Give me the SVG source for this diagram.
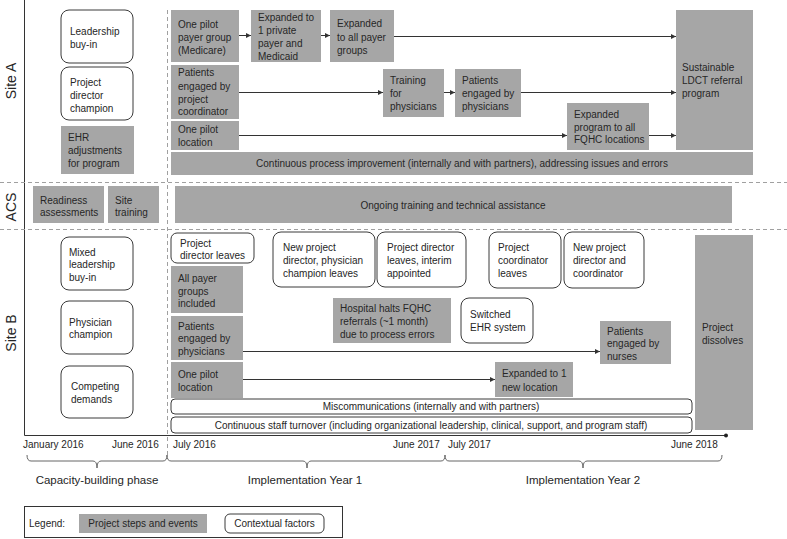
<svg xmlns="http://www.w3.org/2000/svg" width="787" height="539" viewBox="0 0 787 539">
<style>
.g{fill:#a6a6a6}
.w{fill:#fff;stroke:#3a3a3a;stroke-width:1}
.t{font-family:"Liberation Sans",Arial,sans-serif;font-size:10px;fill:#262626}
.c{text-anchor:middle}
.lab{font-family:"Liberation Sans",Arial,sans-serif;font-size:14px;fill:#262626;text-anchor:middle}
.ph{font-family:"Liberation Sans",Arial,sans-serif;font-size:11.5px;fill:#262626;text-anchor:middle}
.dash{stroke:#a0a0a0;stroke-dasharray:4 3;fill:none;stroke-width:1}
.conn{stroke:#333;stroke-width:1;fill:none;marker-end:url(#ah)}
.axis{stroke:#333;stroke-width:1;fill:none}
.brace{stroke:#666;stroke-width:1;fill:none}
</style>
<defs>
<marker id="ah" viewBox="0 0 6 6" refX="6" refY="3" markerWidth="5" markerHeight="5" orient="auto" markerUnits="userSpaceOnUse"><path d="M0,0 L6,3 L0,6 z" fill="#333"/></marker>
</defs>
<rect width="787" height="539" fill="#fff"/>

<g id="frame">
<line class="axis" x1="24.5" y1="0" x2="24.5" y2="435.5"/>
<line class="axis" x1="24.5" y1="435.5" x2="726" y2="435.5"/>
<circle cx="726" cy="435.5" r="2" fill="#222"/>
<line class="dash" x1="0" y1="182.5" x2="787" y2="182.5"/>
<line class="dash" x1="0" y1="229.5" x2="787" y2="229.5"/>
<line class="dash" x1="167.5" y1="10" x2="167.5" y2="455"/>
<text class="lab" transform="translate(16,81) rotate(-90)">Site A</text>
<text class="lab" transform="translate(16,207) rotate(-90)">ACS</text>
<text class="lab" transform="translate(16,333) rotate(-90)">Site B</text>
</g>

<!-- Site A -->
<g id="a-leadership"><rect class="w" x="61" y="10" width="72" height="53" rx="8"/><text class="t"><tspan x="70" y="35">Leadership</tspan><tspan x="70" y="48">buy-in</tspan></text></g>
<g id="a-director"><rect class="w" x="61" y="67" width="72" height="53" rx="8"/><text class="t"><tspan x="70" y="86">Project</tspan><tspan x="70" y="99">director</tspan><tspan x="70" y="112">champion</tspan></text></g>
<g id="a-ehr"><rect class="g" x="61" y="126" width="73" height="48"/><text class="t"><tspan x="68" y="141">EHR</tspan><tspan x="68" y="154">adjustments</tspan><tspan x="68" y="167">for program</tspan></text></g>
<g id="a-payer1"><rect class="g" x="171" y="10" width="68" height="52"/><text class="t"><tspan x="178" y="28">One pilot</tspan><tspan x="178" y="41">payer group</tspan><tspan x="178" y="54">(Medicare)</tspan></text></g>
<g id="a-payer2"><rect class="g" x="251" y="10" width="70" height="52"/><text class="t"><tspan x="258" y="21">Expanded to</tspan><tspan x="258" y="34">1 private</tspan><tspan x="258" y="47">payer and</tspan><tspan x="258" y="60">Medicaid</tspan></text></g>
<g id="a-payer3"><rect class="g" x="330" y="10" width="64" height="52"/><text class="t"><tspan x="337" y="27">Expanded</tspan><tspan x="337" y="41">to all payer</tspan><tspan x="337" y="54">groups</tspan></text></g>
<g id="a-coord"><rect class="g" x="171" y="65" width="68" height="54"/><text class="t"><tspan x="178" y="76">Patients</tspan><tspan x="178" y="90">engaged by</tspan><tspan x="178" y="103">project</tspan><tspan x="178" y="115">coordinator</tspan></text></g>
<g id="a-location"><rect class="g" x="171" y="121" width="68" height="29"/><text class="t"><tspan x="178" y="133">One pilot</tspan><tspan x="178" y="146">location</tspan></text></g>
<g id="a-training"><rect class="g" x="383" y="69" width="61" height="48"/><text class="t"><tspan x="390" y="84">Training</tspan><tspan x="390" y="97">for</tspan><tspan x="390" y="110">physicians</tspan></text></g>
<g id="a-physicians"><rect class="g" x="455" y="69" width="66" height="48"/><text class="t"><tspan x="462" y="84">Patients</tspan><tspan x="462" y="97">engaged by</tspan><tspan x="462" y="110">physicians</tspan></text></g>
<g id="a-fqhc"><rect class="g" x="567" y="103" width="82" height="47"/><text class="t"><tspan x="574" y="118">Expanded</tspan><tspan x="574" y="131">program to all</tspan><tspan x="574" y="143">FQHC locations</tspan></text></g>
<g id="a-ldct"><rect class="g" x="676" y="10" width="77" height="140"/><text class="t"><tspan x="682" y="71">Sustainable</tspan><tspan x="682" y="84">LDCT referral</tspan><tspan x="682" y="97">program</tspan></text></g>
<g id="a-cpi"><rect class="g" x="171" y="152" width="582" height="23"/><text class="t c" x="462" y="167">Continuous process improvement (internally and with partners), addressing issues and errors</text></g>

<!-- ACS -->
<g id="acs-readiness"><rect class="g" x="33" y="186" width="71" height="37"/><text class="t"><tspan x="40" y="204">Readiness</tspan><tspan x="40" y="216">assessments</tspan></text></g>
<g id="acs-site"><rect class="g" x="108" y="186" width="51" height="37"/><text class="t"><tspan x="115" y="204">Site</tspan><tspan x="115" y="216">training</tspan></text></g>
<g id="acs-ongoing"><rect class="g" x="175" y="186" width="557" height="37"/><text class="t c" x="453" y="209">Ongoing training and technical assistance</text></g>

<!-- Site B -->
<g id="b-leadership"><rect class="w" x="61" y="237" width="72" height="53" rx="8"/><text class="t"><tspan x="69" y="256">Mixed</tspan><tspan x="69" y="268">leadership</tspan><tspan x="69" y="281">buy-in</tspan></text></g>
<g id="b-physician"><rect class="w" x="61" y="301" width="72" height="53" rx="8"/><text class="t"><tspan x="69" y="326">Physician</tspan><tspan x="69" y="338">champion</tspan></text></g>
<g id="b-competing"><rect class="w" x="61" y="366" width="72" height="52" rx="8"/><text class="t"><tspan x="71" y="390">Competing</tspan><tspan x="71" y="403">demands</tspan></text></g>
<g id="b-dirleaves"><rect class="w" x="171" y="233" width="83" height="30" rx="6"/><text class="t"><tspan x="180" y="247">Project</tspan><tspan x="180" y="259">director leaves</tspan></text></g>
<g id="b-allpayer"><rect class="g" x="171" y="266" width="72" height="47"/><text class="t"><tspan x="178" y="282">All payer</tspan><tspan x="178" y="295">groups</tspan><tspan x="178" y="307">included</tspan></text></g>
<g id="b-physicians"><rect class="g" x="171" y="316" width="72" height="44"/><text class="t"><tspan x="178" y="330">Patients</tspan><tspan x="178" y="342">engaged by</tspan><tspan x="178" y="355">physicians</tspan></text></g>
<g id="b-location"><rect class="g" x="171" y="362" width="72" height="36"/><text class="t"><tspan x="178" y="378">One pilot</tspan><tspan x="178" y="391">location</tspan></text></g>
<g id="b-newdir"><rect class="w" x="273" y="232" width="102" height="55" rx="8"/><text class="t"><tspan x="283" y="251">New project</tspan><tspan x="283" y="264">director, physician</tspan><tspan x="283" y="277">champion leaves</tspan></text></g>
<g id="b-interim"><rect class="w" x="377" y="232" width="89" height="55" rx="8"/><text class="t"><tspan x="387" y="251">Project director</tspan><tspan x="387" y="264">leaves, interim</tspan><tspan x="387" y="277">appointed</tspan></text></g>
<g id="b-halts"><rect class="g" x="333" y="298" width="118" height="45"/><text class="t"><tspan x="340" y="312">Hospital halts FQHC</tspan><tspan x="340" y="325">referrals (~1 month)</tspan><tspan x="340" y="338">due to process errors</tspan></text></g>
<g id="b-ehr"><rect class="w" x="461" y="298" width="72" height="45" rx="8"/><text class="t"><tspan x="470" y="318">Switched</tspan><tspan x="470" y="331">EHR system</tspan></text></g>
<g id="b-coordleaves"><rect class="w" x="489" y="232" width="72" height="56" rx="8"/><text class="t"><tspan x="498" y="251">Project</tspan><tspan x="498" y="264">coordinator</tspan><tspan x="498" y="277">leaves</tspan></text></g>
<g id="b-newdircoord"><rect class="w" x="564" y="232" width="80" height="56" rx="8"/><text class="t"><tspan x="573" y="251">New project</tspan><tspan x="573" y="264">director and</tspan><tspan x="573" y="277">coordinator</tspan></text></g>
<g id="b-nurses"><rect class="g" x="600" y="321" width="71" height="43"/><text class="t"><tspan x="607" y="335">Patients</tspan><tspan x="607" y="347">engaged by</tspan><tspan x="607" y="360">nurses</tspan></text></g>
<g id="b-newloc"><rect class="g" x="495" y="362" width="78" height="35"/><text class="t"><tspan x="502" y="377">Expanded to 1</tspan><tspan x="502" y="391">new location</tspan></text></g>
<g id="b-dissolves"><rect class="g" x="695" y="235" width="58" height="195"/><text class="t"><tspan x="702" y="331">Project</tspan><tspan x="702" y="344">dissolves</tspan></text></g>
<g id="b-miscomm"><rect class="w" x="171" y="399" width="521" height="15" rx="4"/><text class="t c" x="431" y="410">Miscommunications (internally and with partners)</text></g>
<g id="b-turnover"><rect class="w" x="171" y="417" width="521" height="16" rx="4"/><text class="t c" x="431" y="428.5">Continuous staff turnover (including organizational leadership, clinical, support, and program staff)</text></g>

<!-- Connectors -->
<g id="connectors">
<line class="conn" x1="239" y1="35.5" x2="251" y2="35.5"/>
<line class="conn" x1="321" y1="35.5" x2="330" y2="35.5"/>
<line class="conn" x1="394" y1="36.5" x2="676" y2="36.5"/>
<line class="conn" x1="239" y1="92.5" x2="383" y2="92.5"/>
<line class="conn" x1="444" y1="92.5" x2="455" y2="92.5"/>
<line class="conn" x1="521" y1="92.5" x2="676" y2="92.5"/>
<line class="conn" x1="239" y1="135.5" x2="567" y2="135.5"/>
<line class="conn" x1="649" y1="135.5" x2="676" y2="135.5"/>
<line class="conn" x1="243" y1="351.5" x2="600" y2="351.5"/>
<line class="conn" x1="243" y1="379.5" x2="495" y2="379.5"/>
</g>

<!-- Timeline -->
<g id="timeline">
<text class="t" x="23" y="448">January 2016</text>
<text class="t" x="112" y="448">June 2016</text>
<text class="t" x="173" y="448">July 2016</text>
<text class="t" x="393" y="448">June 2017</text>
<text class="t" x="448" y="448">July 2017</text>
<text class="t" x="671" y="448">June 2018</text>
<path class="brace" d="M27,455 Q27,461 31,461 L93,461 Q97,461 97,468 Q97,461 101,461 L163,461 Q167,461 167,455"/>
<path class="brace" d="M167,455 Q167,461 171,461 L303,461 Q307,461 307,468 Q307,461 311,461 L441,461 Q445,461 445,455"/>
<path class="brace" d="M445,455 Q445,461 449,461 L579,461 Q583,461 583,468 Q583,461 587,461 L718,461 Q722,461 722,455"/>
<text class="ph" x="97" y="484">Capacity-building phase</text>
<text class="ph" x="305" y="484">Implementation Year 1</text>
<text class="ph" x="583" y="484">Implementation Year 2</text>
</g>

<!-- Legend -->
<g id="legend">
<rect x="24.5" y="506.5" width="318" height="31" fill="#fff" stroke="#333"/>
<text class="t" x="29" y="527">Legend:</text>
<rect class="g" x="79" y="514" width="128" height="19"/>
<text class="t c" x="143" y="527">Project steps and events</text>
<rect class="w" x="225" y="514" width="99" height="19" rx="5"/>
<text class="t c" x="274.5" y="527">Contextual factors</text>
</g>
</svg>
